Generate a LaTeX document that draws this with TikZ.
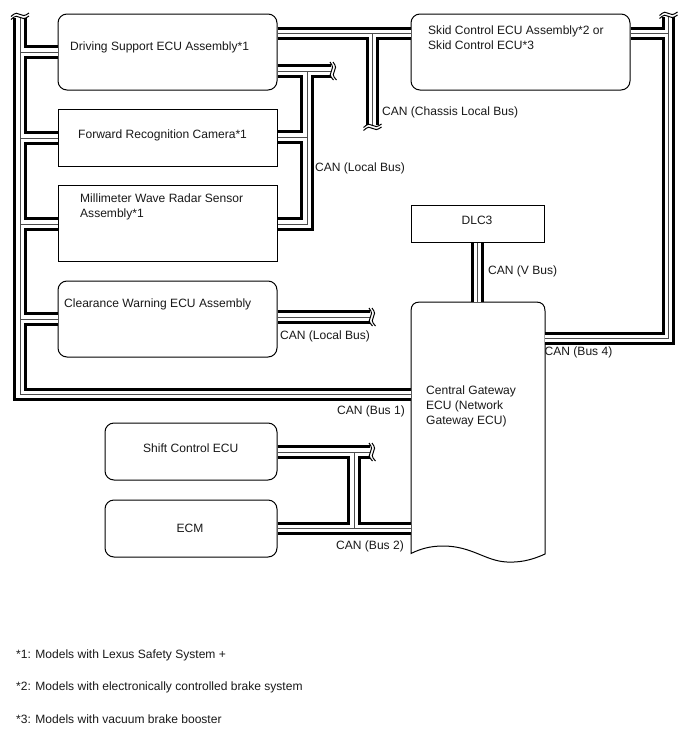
\documentclass[tikz,border=0pt]{standalone}
\usepackage{fontspec}
\setmainfont{Liberation Sans}
\tikzset{
  x=1pt,y=-1pt,
  unit/.style={draw=black,line width=1pt,fill=white,inner sep=0pt,anchor=north west,xshift=-.5pt,yshift=.5pt},
  softunit/.style={unit,rounded corners=9pt},
  txt/.style={inner sep=0pt,anchor=west,align=left,font=\fontsize{12.05pt}{14.7pt}\selectfont,text=black!90},
  busouter/.style={line width=13.6pt,draw=black,line cap=butt,line join=miter},
  businner/.style={line width=7.2pt,draw=white,line cap=butt,line join=miter},
  buscore/.style={line width=1pt,draw=black!70,line cap=butt,line join=miter},
  pics/brk/.style={code={
    \fill[white] (-10,-2.2) rectangle (10,2.2);
    \draw[line width=1pt,black] (-9,0.5) .. controls (-5,-3.5) and (-2,-3.5) .. (0,-1.6) .. controls (2,0.2) and (5,0.2) .. (9,-3);
    \draw[line width=1pt,black] (-9,3.5) .. controls (-5,-0.5) and (-2,-0.5) .. (0,1.4) .. controls (2,3.2) and (5,3.2) .. (9,0);
  }}
}
% Every twisted pair, listed once and stroked three times so that the layers merge at tees
\newcommand{\buspaths}[1]{%
  \draw[#1]
    (leftTop) -- (20,394.5) -- (gw.west |- 0,394.5)
    (20,52) -- (dse.west |- 0,52)
    (20,138) -- (frc.west |- 0,138)
    (20,224) -- (mwr.west |- 0,224)
    (20,319) -- (cws.west |- 0,319)
    (dse.east |- 0,71) -- (localEnd)
    (frc.east |- 0,137) -- (307,137)
    (mwr.east |- 0,224) -- (307,224) -- (307,71)
    (dse.east |- 0,33.5) -- (skid.west |- 0,33.5)
    (372.5,33.5) -- (chassisEnd)
    (skid.east |- 0,33.5) -- (668.5,33.5)
    (rightTop) -- (668.5,338.5) -- (gw.east |- 0,338.5)
    (dlc.south) -- (gw.north -| dlc.south)
    (cws.east |- 0,317) -- (clearEnd)
    (shift.east |- 0,452) -- (shiftEnd)
    (ecm.east |- 0,528.5) -- (gw.west |- 0,528.5)
    (354,452) -- (354,528.5);
}
\begin{document}
\begin{tikzpicture}
\useasboundingbox (0,0) rectangle (688,755);
\fill[white] (0,0) rectangle (688,755);

% Electronic control units
\node[softunit,minimum width=219pt,minimum height=76pt] (dse) at (58,14) {};
\node[unit,minimum width=219pt,minimum height=57pt] (frc) at (58,109) {};
\node[unit,minimum width=219pt,minimum height=76pt] (mwr) at (58,185) {};
\node[softunit,minimum width=219pt,minimum height=76pt] (cws) at (58,281) {};
\node[softunit,minimum width=219pt,minimum height=76pt] (skid) at (411,14) {};
\node[unit,minimum width=133pt,minimum height=37pt] (dlc) at (411,205) {};
\node[softunit,minimum width=172pt,minimum height=57pt] (shift) at (105,423) {};
\node[softunit,minimum width=172pt,minimum height=57pt] (ecm) at (105,500) {};

% Gateway: a sheet with a torn lower edge, anchors given by an invisible box
\node[inner sep=0pt,minimum width=134pt,minimum height=251pt,anchor=north west] (gw) at (411,302) {};
\draw[line width=1pt,fill=white] (411,553.5) -- (411,311) .. controls (411,305) and (414,302) .. (420,302)
  -- (536,302) .. controls (542,302) and (545,305) .. (545,311) -- (545,554)
  .. controls (530,561) and (518,562.5) .. (507,562)
  .. controls (485,561) and (472,546) .. (443,546)
  .. controls (430,546) and (420,549) .. (411,553.5) -- cycle;

% Free ends of the buses
\coordinate (leftTop) at (20,16);
\coordinate (rightTop) at (668.5,15);
\coordinate (localEnd) at (333,71);
\coordinate (chassisEnd) at (372.5,127);
\coordinate (clearEnd) at (372,317);
\coordinate (shiftEnd) at (372,452);

\buspaths{busouter}
\buspaths{businner}
\buspaths{buscore}

\pic at (leftTop) {brk};
\pic at (rightTop) {brk};
\pic at (chassisEnd) {brk};
\pic[rotate=90] at (localEnd) {brk};
\pic[rotate=90] at (clearEnd) {brk};
\pic[rotate=90] at (shiftEnd) {brk};

% Unit names
\node[txt] (tDse) at (70,47) {Driving Support ECU Assembly*1};
\node[txt] (tFrc) at (78,135.5) {Forward Recognition Camera*1};
\node[txt] (tMwr) at (80,207) {Millimeter Wave Radar Sensor\\Assembly*1};
\node[txt] (tCws) at (64,304.5) {Clearance Warning ECU Assembly};
\node[txt] (tSkid) at (428,37.5) {Skid Control ECU Assembly*2 or\\Skid Control ECU*3};
\node[txt,anchor=center] (tDlc) at (477,220) {DLC3};
\node[txt] (tGw) at (426,406.5) {Central Gateway\\ECU (Network\\Gateway ECU)};
\node[txt] (tShift) at (143,448) {Shift Control ECU};
\node[txt,anchor=center] (tEcm) at (190,528) {ECM};

% Bus names
\node[txt] (cChassis) at (382,112) {CAN (Chassis Local Bus)};
\node[txt] (cLocalA) at (315,168) {CAN (Local Bus)};
\node[txt] (cV) at (488,271) {CAN (V Bus)};
\node[txt] (cLocalB) at (280,336) {CAN (Local Bus)};
\node[txt] (cB4) at (544.5,352) {CAN (Bus 4)};
\node[txt] (cB1) at (337,411) {CAN (Bus 1)};
\node[txt] (cB2) at (336,546) {CAN (Bus 2)};

% Footnotes
\node[txt] (n1) at (16,655) {*1: Models with Lexus Safety System +};
\node[txt] (n2) at (16,687) {*2: Models with electronically controlled brake system};
\node[txt] (n3) at (16,719) {*3: Models with vacuum brake booster};
\end{tikzpicture}
\end{document}
